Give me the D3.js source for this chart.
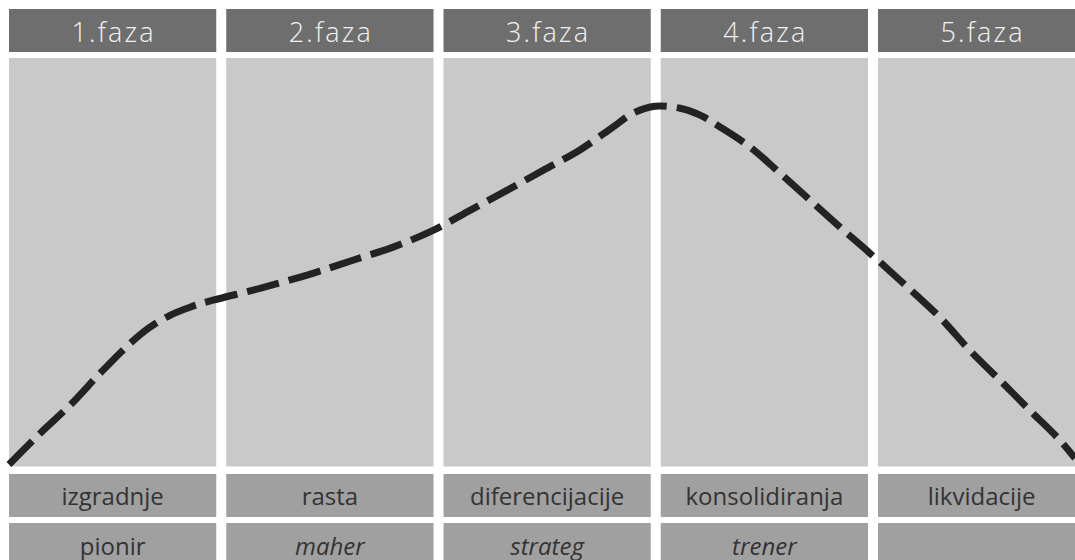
<!DOCTYPE html>
<html>
<head>
<meta charset="utf-8">
<script src="https://cdn.jsdelivr.net/npm/d3@7"></script>
<style>
  html, body { margin: 0; padding: 0; background: #ffffff; }
  svg { display: block; }
</style>
</head>
<body>
<svg id="chart" width="1075" height="560"></svg>
<script>
// ---- data ----
const phases = ["1.faza", "2.faza", "3.faza", "4.faza", "5.faza"];
const stages = ["izgradnje", "rasta", "diferencijacije", "konsolidiranja", "likvidacije"];
const roles = ["pionir", "maher", "strateg", "trener", ""];
// curve: position along the phases (0..5) and level (0 = bottom, 100 = top)
const curvePos = [0, 0.143, 0.281, 0.419, 0.557, 0.649, 0.741, 0.833, 0.939, 1.155, 1.399, 1.583, 1.768, 1.952,
  2.122, 2.292, 2.458, 2.628, 2.780, 2.872, 2.974, 3.089, 3.181, 3.273, 3.411, 3.549, 3.687, 3.825, 3.963,
  4.101, 4.285, 4.423, 4.562, 4.700, 4.838, 4.907];
const curveLevel = [0.5, 8.1, 15.0, 22.8, 30.1, 34.1, 37.0, 39.0, 40.7, 43.6, 47.3, 50.5, 53.7, 57.8,
  62.7, 67.6, 72.5, 77.5, 83.1, 86.5, 88.2, 87.7, 86.0, 83.1, 78.2, 71.8, 65.2, 58.6, 52.2,
  45.6, 36.5, 28.4, 21.1, 13.7, 6.4, 2.0];

// ---- styles ----
const italicRoles = new Set(["maher", "strateg", "trener"]);
const C = { header: "#6e6e6e", headerText: "#f2f2f2", main: "#c8c9c8", row: "#a0a0a0", rowText: "#333333", line: "#232323" };

const svg = d3.select("#chart");
svg.append("rect").attr("width", 1075).attr("height", 560).attr("fill", "#ffffff");

const step = 217.25;
const band = d3.scaleBand().domain(phases).range([9, 9 + step * (5 - 10 / step)]).paddingInner(10 / step).paddingOuter(0);
const x = d3.scaleLinear().domain([0, 5]).range([9, 9 + 5 * step]);
const y = d3.scaleLinear().domain([0, 100]).range([466.5, 58]);

const layout = { headerTop: 9, headerH: 43, mainTop: 58, mainBottom: 466.5, row1Top: 474, rowH: 43, row2Top: 523 };

// header
const hdr = svg.append("g");
hdr.selectAll("rect").data(phases).join("rect")
  .attr("x", d => band(d)).attr("y", layout.headerTop)
  .attr("width", band.bandwidth()).attr("height", layout.headerH)
  .attr("fill", C.header);
hdr.selectAll("text").data(phases).join("text")
  .attr("x", d => band(d) + band.bandwidth() / 2 + 1).attr("y", 41.5)
  .attr("text-anchor", "middle")
  .attr("font-family", "'Open Sans', sans-serif").attr("font-size", 27).attr("font-weight", 300)
  .attr("letter-spacing", 2.2)
  .attr("fill", C.headerText)
  .text(d => d);

// main columns
svg.append("g").selectAll("rect").data(phases).join("rect")
  .attr("x", d => band(d)).attr("y", layout.mainTop)
  .attr("width", band.bandwidth()).attr("height", layout.mainBottom - layout.mainTop)
  .attr("fill", C.main);

// row 1
const r1 = svg.append("g");
r1.selectAll("rect").data(stages).join("rect")
  .attr("x", (d, i) => band(phases[i])).attr("y", layout.row1Top)
  .attr("width", band.bandwidth()).attr("height", layout.rowH)
  .attr("fill", C.row);
r1.selectAll("text").data(stages).join("text")
  .attr("x", (d, i) => band(phases[i]) + band.bandwidth() / 2).attr("y", 505)
  .attr("text-anchor", "middle")
  .attr("font-family", "'Open Sans', sans-serif").attr("font-size", 24)
  .attr("fill", C.rowText)
  .text(d => d);

// row 2
const r2 = svg.append("g");
r2.selectAll("rect").data(roles).join("rect")
  .attr("x", (d, i) => band(phases[i])).attr("y", layout.row2Top)
  .attr("width", band.bandwidth()).attr("height", layout.rowH)
  .attr("fill", C.row);
r2.selectAll("text").data(roles).join("text")
  .attr("x", (d, i) => band(phases[i]) + band.bandwidth() / 2).attr("y", 555)
  .attr("text-anchor", "middle")
  .attr("font-family", "'Open Sans', sans-serif").attr("font-size", 24)
  .attr("font-style", d => italicRoles.has(d) ? "italic" : "normal")
  .attr("fill", C.rowText)
  .text(d => d);

// dashed curve
const pts = curvePos.map((p, i) => [p, curveLevel[i]]);
const line = d3.line().x(d => x(d[0])).y(d => y(d[1])).curve(d3.curveCatmullRom.alpha(0.5));
svg.append("path").datum(pts)
  .attr("d", line)
  .attr("fill", "none")
  .attr("stroke", C.line)
  .attr("stroke-width", 7)
  .attr("stroke-dasharray", "33 10");
</script>
</body>
</html>
